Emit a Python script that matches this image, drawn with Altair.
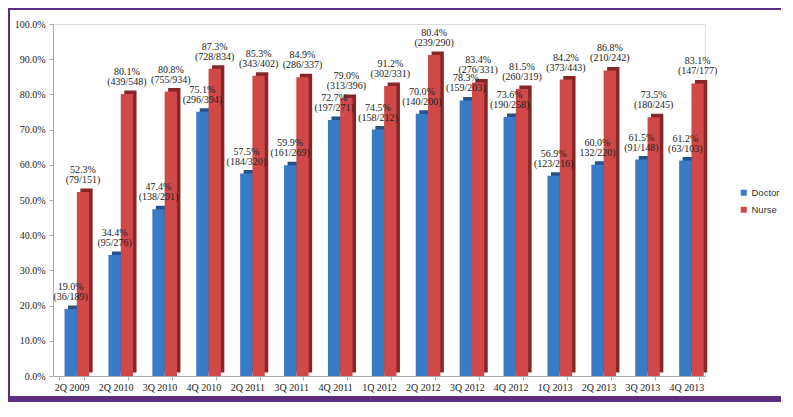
import altair as alt
import pandas as pd

quarters = ["2Q 2009", "2Q 2010", "3Q 2010", "4Q 2010", "2Q 2011", "3Q 2011", "4Q 2011",
            "1Q 2012", "2Q 2012", "3Q 2012", "4Q 2012", "1Q 2013", "2Q 2013", "3Q 2013", "4Q 2013"]
series_names = ["Doctor", "Nurse"]

# bar heights (percent) as drawn
doctor_pct = [19.0, 34.4, 47.4, 75.1, 57.5, 59.9, 72.7, 70.0, 74.5, 78.3, 73.6, 56.9, 60.0, 61.5, 61.2]
nurse_pct = [52.3, 80.1, 80.8, 87.3, 85.3, 84.9, 79.0, 82.4, 91.2, 83.4, 81.5, 84.2, 86.8, 73.5, 83.1]

# data labels as printed above the bars
doctor_text = ["19.0%\n(36/189)", "34.4%\n(95/276)", "47.4%\n(138/291)", "75.1%\n(296/394)",
               "57.5%\n(184/320)", "59.9%\n(161/269)", "72.7%\n(197/271)", "74.5%\n(158/212)",
               "70.0%\n(140/200)", "78.3%\n(159/203)", "73.6%\n(190/258)", "56.9%\n(123/216)",
               "60.0%\n132/220)", "61.5%\n(91/148)", "61.2%\n(63/103)"]
nurse_text = ["52.3%\n(79/151)", "80.1%\n(439/548)", "80.8%\n(755/934)", "87.3%\n(728/834)",
              "85.3%\n(343/402)", "84.9%\n(286/337)", "79.0%\n(313/396)", "91.2%\n(302/331)",
              "80.4%\n(239/290)", "83.4%\n(276/331)", "81.5%\n(260/319)", "84.2%\n(373/443)",
              "86.8%\n(210/242)", "73.5%\n(180/245)", "83.1%\n(147/177)"]

rows = []
for i, q in enumerate(quarters):
    for s, vals, texts in [("Doctor", doctor_pct, doctor_text), ("Nurse", nurse_pct, nurse_text)]:
        l1, l2 = texts[i].split("\n")
        rows.append(dict(quarter=q, series=s, pct=vals[i] / 100, line1=l1, line2=l2))
df = pd.DataFrame(rows)

BLUE = "#3A7BC8"
RED = "#D04848"
DBLUE = "#23528C"
DRED = "#852727"
PURPLE = "#5E2D80"
SERIF = "Liberation Serif, Times New Roman, serif"

W, H = 652, 352
BW = 12.3

x = alt.X("quarter:N", sort=quarters,
          scale=alt.Scale(paddingInner=0.44, paddingOuter=0.146),
          axis=alt.Axis(title=None, labelAngle=0, labelFont=SERIF, labelFontSize=10,
                        labelColor="#222", tickBand="extent", tickSize=4, tickColor="#aaa",
                        domainColor="#aaa", labelPadding=2))
y = alt.Y("pct:Q", scale=alt.Scale(domain=[0, 1], nice=False),
          axis=alt.Axis(title=None, format=".1%", values=[i / 10 for i in range(11)], grid=False,
                        labelFont=SERIF, labelFontSize=10, labelColor="#222",
                        tickSize=4, tickColor="#aaa", domainColor="#aaa", labelPadding=4))

color = alt.Color("series:N",
                  scale=alt.Scale(domain=series_names, range=[BLUE, RED]),
                  legend=alt.Legend(title=None, orient="none", legendX=686, legendY=164,
                                    symbolType="square", symbolSize=36, symbolStrokeWidth=0,
                                    labelFont="Liberation Sans", labelFontSize=9.5,
                                    labelOffset=3, labelColor="#333", rowPadding=6))

base = alt.Chart(df).encode(x=x, y=y)

layers = []
for s, off, dark in [("Doctor", -1.0, DBLUE), ("Nurse", 11.3, DRED)]:
    sub = base.transform_filter(alt.datum.series == s)
    layers.append(sub.mark_bar(width=BW, xOffset=off + 3.5, yOffset=-3.5, y2Offset=-2, color=dark))
    layers.append(sub.mark_bar(width=BW, xOffset=off).encode(color=color))
for s, off in [("Doctor", -1.0), ("Nurse", 11.3)]:
    sub = base.transform_filter(alt.datum.series == s)
    for field, dy in [("line1", -22), ("line2", -12)]:
        layers.append(sub.mark_text(xOffset=off, dy=dy, baseline="middle",
                                    font=SERIF, fontSize=10, color="#222").encode(text=f"{field}:N"))

dummy = alt.Chart(pd.DataFrame({"a": [0]}))
frame = dummy.mark_rect(filled=False, stroke=PURPLE, strokeWidth=2).encode(
    x=alt.value(-44), x2=alt.value(729), y=alt.value(-15), y2=alt.value(377))
band = dummy.mark_rect(color=PURPLE).encode(
    x=alt.value(-45), x2=alt.value(730), y=alt.value(372), y2=alt.value(378))

chart = alt.layer(frame, band, *layers).properties(
    width=W, height=H,
    padding={"left": 45, "top": 16, "right": 76, "bottom": 26},
    autosize=alt.AutoSizeParams(type="none"),
).configure_view(stroke=None).configure(background="white")

chart.save("out.html", embed_options={"renderer": "svg", "actions": False})
